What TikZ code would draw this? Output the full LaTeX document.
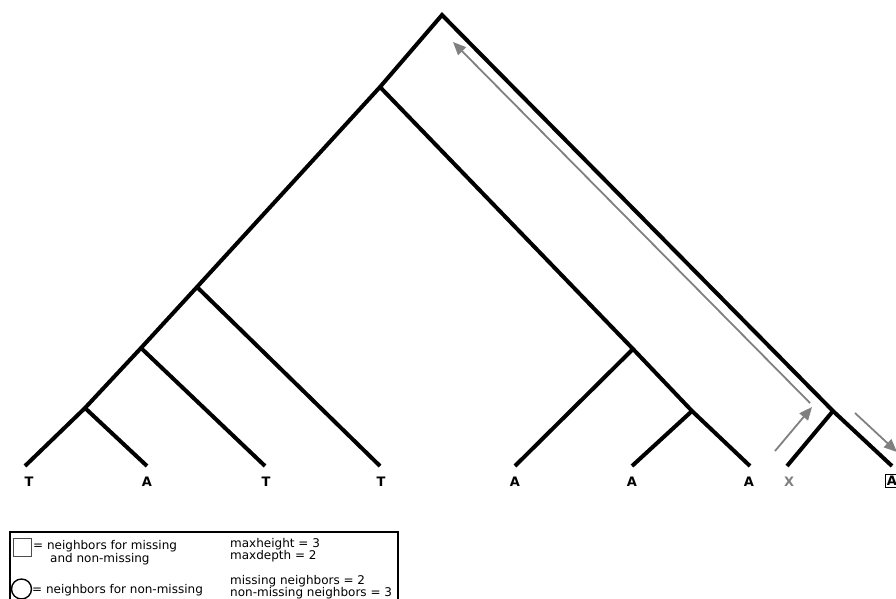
\documentclass[tikz,border=0pt]{standalone}
\usepackage{fontspec}
\setmainfont{DejaVu Sans}
\usetikzlibrary{arrows.meta}
\begin{document}
\begin{tikzpicture}[x=1pt,y=-1pt,
  branch/.style={line width=4pt, black},
  pointer/.style={line width=1.8pt, black!50, -{Triangle[length=13pt,width=11pt]}},
  leaflabel/.style={font=\fontsize{13}{13}\selectfont\bfseries, inner sep=0pt},
  legendtext/.style={font=\fontsize{12}{13}\selectfont, inner sep=0pt, anchor=base west, align=left}]
\useasboundingbox (0,0) rectangle (896,598);
% internal nodes
\coordinate (root) at (442,15);
\coordinate (n1) at (380,87);
\coordinate (n5) at (197,287);
\coordinate (n6) at (141,348);
\coordinate (n7) at (85,408);
\coordinate (n2) at (633,349);
\coordinate (n3) at (692,411);
\coordinate (n4) at (833,411);
% leaves
\coordinate (t1) at (25,466);
\coordinate (a1) at (147,466);
\coordinate (t2) at (265,466);
\coordinate (t3) at (380,466);
\coordinate (a2) at (515,466);
\coordinate (a3) at (632,466);
\coordinate (a4) at (750,466);
\coordinate (x1) at (787,466);
\coordinate (a5) at (892,466);
% branches
\draw[branch] (t1) -- (n7) -- (n6) -- (n5) -- (n1) -- (root) -- (n4) -- (a5);
\draw[branch] (n7) -- (a1);
\draw[branch] (n6) -- (t2);
\draw[branch] (n5) -- (t3);
\draw[branch] (n1) -- (n2) -- (n3) -- (a4);
\draw[branch] (n2) -- (a2);
\draw[branch] (n3) -- (a3);
\draw[branch] (n4) -- (x1);
% leaf labels
\node[leaflabel] (lt1) at (29,482) {T};
\node[leaflabel] (la1) at (147,482) {A};
\node[leaflabel] (lt2) at (266,482) {T};
\node[leaflabel] (lt3) at (381,482) {T};
\node[leaflabel] (la2) at (515,482) {A};
\node[leaflabel] (la3) at (632,482) {A};
\node[leaflabel] (la4) at (749,482) {A};
\node[leaflabel, text=black!50] (lx1) at (789,482) {X};
\node[leaflabel, draw, line width=1.2pt, inner sep=1.5pt] (la5) at (892,481) {A};
% gray arrows
\coordinate (p1s) at (810,403);
\coordinate (p1e) at (453,42);
\coordinate (p2s) at (775,451);
\coordinate (p2e) at (812,407);
\coordinate (p3s) at (855,413);
\coordinate (p3e) at (897,452);
\draw[pointer] (p1s) -- (p1e);
\draw[pointer] (p2s) -- (p2e);
\draw[pointer] (p3s) -- (p3e);
% legend
\draw[line width=1.4pt] (10,532) rectangle (398,640);
\draw[line width=1.4pt, black!70] (13.5,538.5) rectangle (31.5,556.5);
\draw[line width=1.4pt] (21.5,589) circle (10);
\node[legendtext] (l1) at (33,549.5) {= neighbors for missing};
\node[legendtext] (l2) at (50,562) {and non-missing};
\node[legendtext] (l3) at (32,593) {= neighbors for non-missing};
\node[legendtext] (r1) at (230,547) {maxheight = 3};
\node[legendtext] (r2) at (230,559.5) {maxdepth = 2};
\node[legendtext] (r3) at (230,584) {missing neighbors = 2};
\node[legendtext] (r4) at (230,596) {non-missing neighbors = 3};
\end{tikzpicture}
\end{document}
